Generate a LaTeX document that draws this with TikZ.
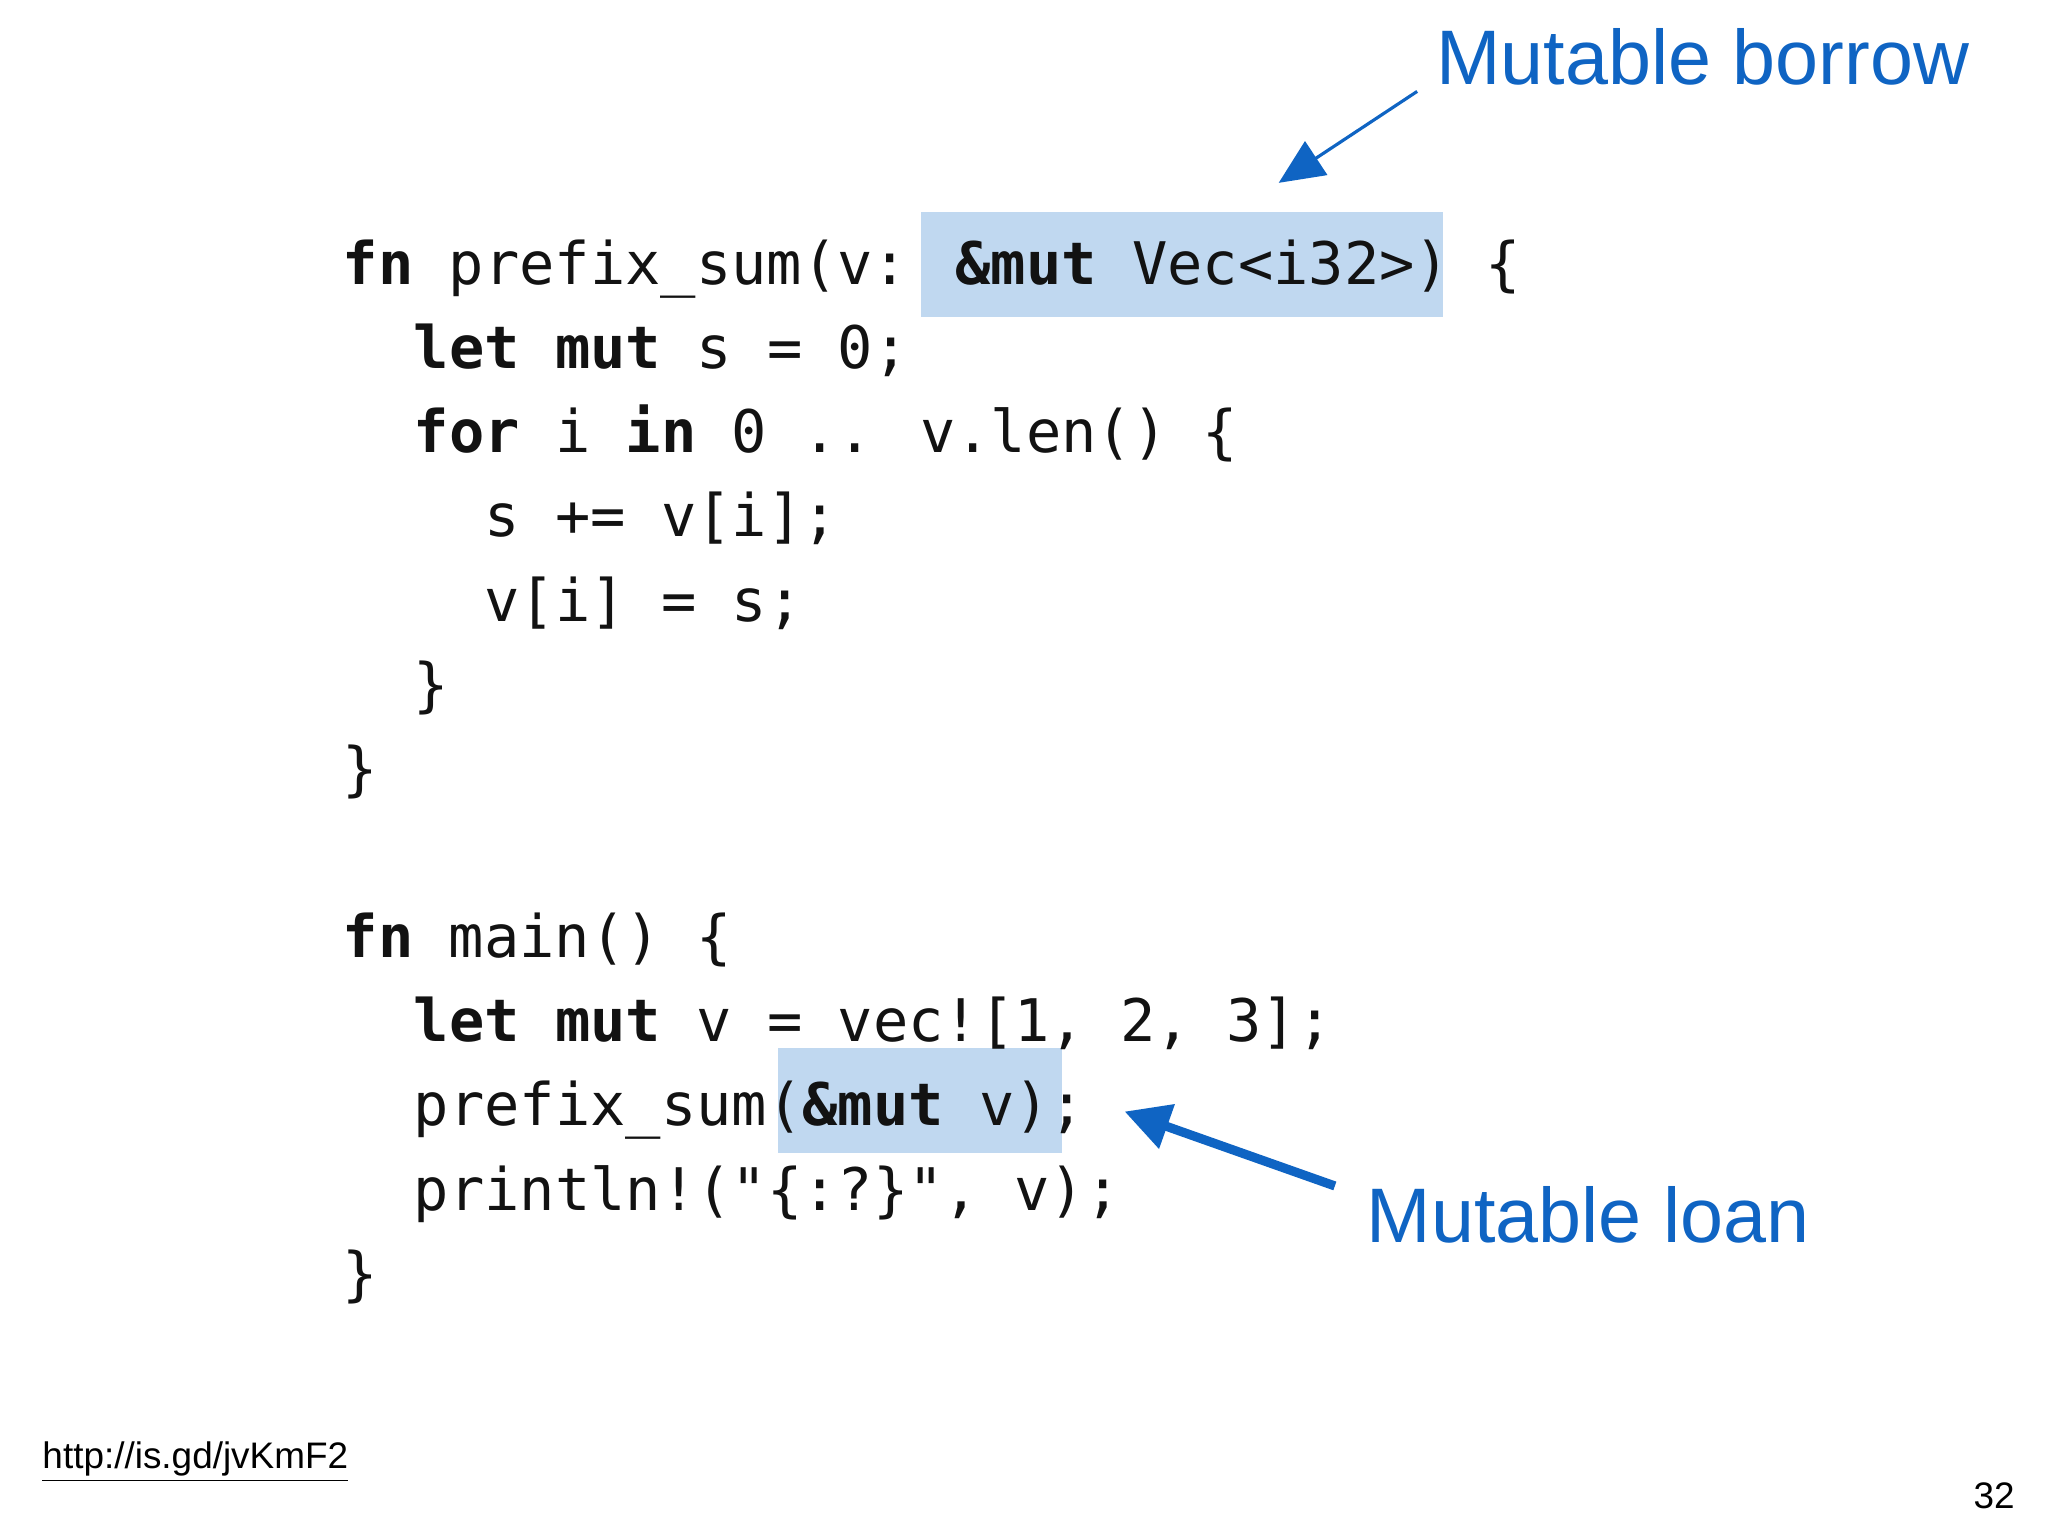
\documentclass[tikz,border=0pt]{standalone}
\usepackage{fontspec}
\setmainfont{Liberation Sans}
\newfontfamily\code{DejaVu Sans Mono}
\usetikzlibrary{arrows.meta}
\definecolor{hl}{RGB}{192,216,240}
\definecolor{ann}{RGB}{15,100,195}
\tikzset{
 cl/.style={anchor=base west,inner sep=0pt,font=\code\fontsize{16.7pt}{20pt}\selectfont,text=black!93},
 lab/.style={anchor=base west,inner sep=0pt,font=\fontsize{22pt}{26pt}\selectfont,text=ann},
 hbox/.style={fill=hl,draw=none},
}
\newcommand{\kw}[1]{\textbf{#1}}
\begin{document}
\begin{tikzpicture}[x=0.013061cm,y=-0.013061cm]
\useasboundingbox[fill=white] (0,0) rectangle (1568,1176);
\fill[hl] (705,162) rectangle (1105,243);
\fill[hl] (596,802) rectangle (813,883);
\node[cl] (l1) at (262,218) {\kw{fn} prefix\_sum(v: \kw{\&mut} Vec<i32>) \{};
\node[cl] (l2) at (316.2,282) {\kw{let} \kw{mut} s = 0;};
\node[cl] (l3) at (316.2,346.5) {\kw{for} i \kw{in} 0 .. v.len() \{};
\node[cl] (l4) at (370.4,411) {s += v[i];};
\node[cl] (l5) at (370.4,475.5) {v[i] = s;};
\node[cl] (l6) at (316.2,540) {\}};
\node[cl] (l7) at (262,604.5) {\}};
\node[cl] (m1) at (262,733) {\kw{fn} main() \{};
\node[cl] (m2) at (316.2,797.5) {\kw{let} \kw{mut} v = vec![1, 2, 3];};
\node[cl] (m3) at (316.2,862) {prefix\_sum(\kw{\&mut} v);};
\node[cl] (m4) at (316.2,926.5) {println!("\{:?\}", v);};
\node[cl] (m5) at (262,991) {\}};
\node[lab] (borrow) at (1099,65) {Mutable borrow};
\node[lab] (loan) at (1046,951) {Mutable loan};
\coordinate (b1) at (1085,70);
\coordinate (b2) at (979,140);
\coordinate (n1) at (1022,908);
\coordinate (n2) at (861,851);
\draw[ann,line width=0.9pt,-{Triangle[length=0.45cm,width=0.4cm]}] (b1) -- (b2);
\draw[ann,line width=2.6pt,-{Triangle[length=0.45cm,width=0.45cm]}] (n1) -- (n2);
\node[anchor=base west,inner sep=0pt,font=\fontsize{10.5pt}{12pt}\selectfont] (link) at (32,1124) {\underline{http://is.gd/jvKmF2}};
\node[anchor=base east,inner sep=0pt,font=\fontsize{10.5pt}{12pt}\selectfont] (pg) at (1543,1155) {32};
\end{tikzpicture}
\end{document}
